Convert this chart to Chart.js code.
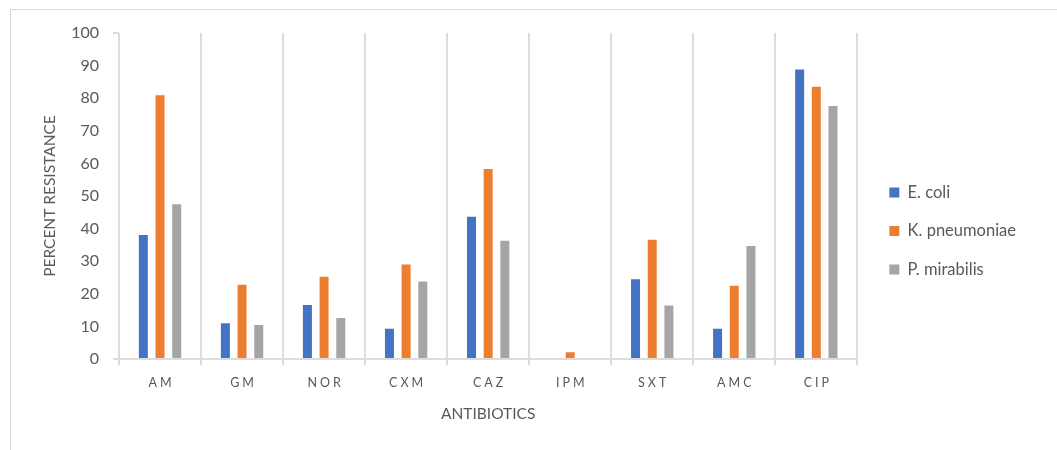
<!DOCTYPE html>
<html>
<head>
<meta charset="utf-8">
<title>Percent resistance by antibiotic</title>
<script src="https://cdn.jsdelivr.net/npm/chart.js@4.4.1/dist/chart.umd.min.js"></script>
<style>
  html, body { margin: 0; padding: 0; background: #fff; }
  #wrap { position: relative; width: 1057px; height: 450px; overflow: hidden; }
  #frame {
    position: absolute; left: 10px; top: 9px; right: 0; bottom: 0;
    border-left: 1px solid #d9d9d9; border-top: 1px solid #d9d9d9;
  }
  #chart { position: absolute; left: 0; top: 0; }
</style>
</head>
<body>
<div id="wrap">
  <div id="frame"></div>
  <canvas id="chart" width="1057" height="450"></canvas>
</div>
<script>
// ─── DATA ─────────────────────────────────────────
const antibiotics = ['AM', 'GM', 'NOR', 'CXM', 'CAZ', 'IPM', 'SXT', 'AMC', 'CIP'];
const eColi       = [38, 11, 16.6, 9.3, 43.6, 0, 24.5, 9.3, 88.8];
const kPneumoniae = [80.9, 22.8, 25.2, 29, 58.3, 2.1, 36.6, 22.5, 83.5];
const pMirabilis  = [47.5, 10.4, 12.6, 23.8, 36.3, 0, 16.4, 34.7, 77.6];
const yTicks      = [0, 10, 20, 30, 40, 50, 60, 70, 80, 90, 100];

const TEXT = '#595959';
const GRID = '#dcdcdc';
const FONT = "Lato, 'Open Sans', sans-serif";

Chart.defaults.font.family = FONT;
Chart.defaults.color = TEXT;

// spaced-out category labels, like the original
const spacedTicks = {
  id: 'spacedTicks',
  afterLayout(chart) {
    const sc = chart.scales.x;
    if (sc._spaced) return;
    const orig = sc.drawLabels;
    sc.drawLabels = function (area) {
      const ctx = this.ctx;
      ctx.save();
      ctx.letterSpacing = '3px';
      ctx.translate(1.5, 0);
      orig.call(this, area);
      ctx.restore();
    };
    sc._spaced = true;
  }
};

new Chart(document.getElementById('chart'), {
  type: 'bar',
  data: {
    labels: antibiotics,
    datasets: [
      { label: 'E. coli',       data: eColi,       backgroundColor: '#4472C4' },
      { label: 'K. pneumoniae', data: kPneumoniae, backgroundColor: '#ED7D31' },
      { label: 'P. mirabilis',  data: pMirabilis,  backgroundColor: '#A5A5A5' }
    ]
  },
  options: {
    responsive: false,
    animation: false,
    categoryPercentage: 0.61,
    barPercentage: 0.54,
    layout: { padding: { top: 33, bottom: 21, left: 11, right: 31 } },
    plugins: {
      legend: {
        position: 'right',
        align: 'center',
        labels: {
          boxWidth: 10,
          boxHeight: 10,
          padding: 22,
          color: TEXT,
          font: { size: 16.5 }
        }
      },
      tooltip: { enabled: false }
    },
    scales: {
      x: {
        afterFit: s => { s.height = 70; },
        grid: {
          offset: true,
          color: GRID,
          lineWidth: 2,
          tickLength: 6
        },
        border: { display: true, color: GRID, width: 2 },
        ticks: { padding: 10, color: TEXT, font: { size: 12.5 } },
        title: {
          display: true,
          text: 'ANTIBIOTICS',
          color: TEXT,
          font: { size: 15.5 },
          padding: { top: 15, bottom: 5.5 }
        }
      },
      y: {
        min: 0,
        max: 100,
        afterBuildTicks: s => { s.ticks = yTicks.map(v => ({ value: v })); },
        afterFit: s => { s.width = 108; },
        grid: {
          drawOnChartArea: false,
          tickLength: 6,
          lineWidth: 2,
          color: c => (c.tick && (c.tick.value === 0 || c.tick.value === 100)) ? GRID : 'rgba(0,0,0,0)'
        },
        border: { display: false },
        ticks: { padding: 14, color: TEXT, font: { size: 16 } },
        title: {
          display: true,
          text: 'PERCENT RESISTANCE',
          color: TEXT,
          font: { size: 15.5 },
          padding: { top: 30, bottom: 12 }
        }
      },
      gap: {
        position: 'right',
        display: true,
        grid: { display: false },
        border: { display: false },
        ticks: { display: false },
        afterFit: s => { s.width = 10; }
      }
    }
  },
  plugins: [spacedTicks]
});
</script>
</body>
</html>
